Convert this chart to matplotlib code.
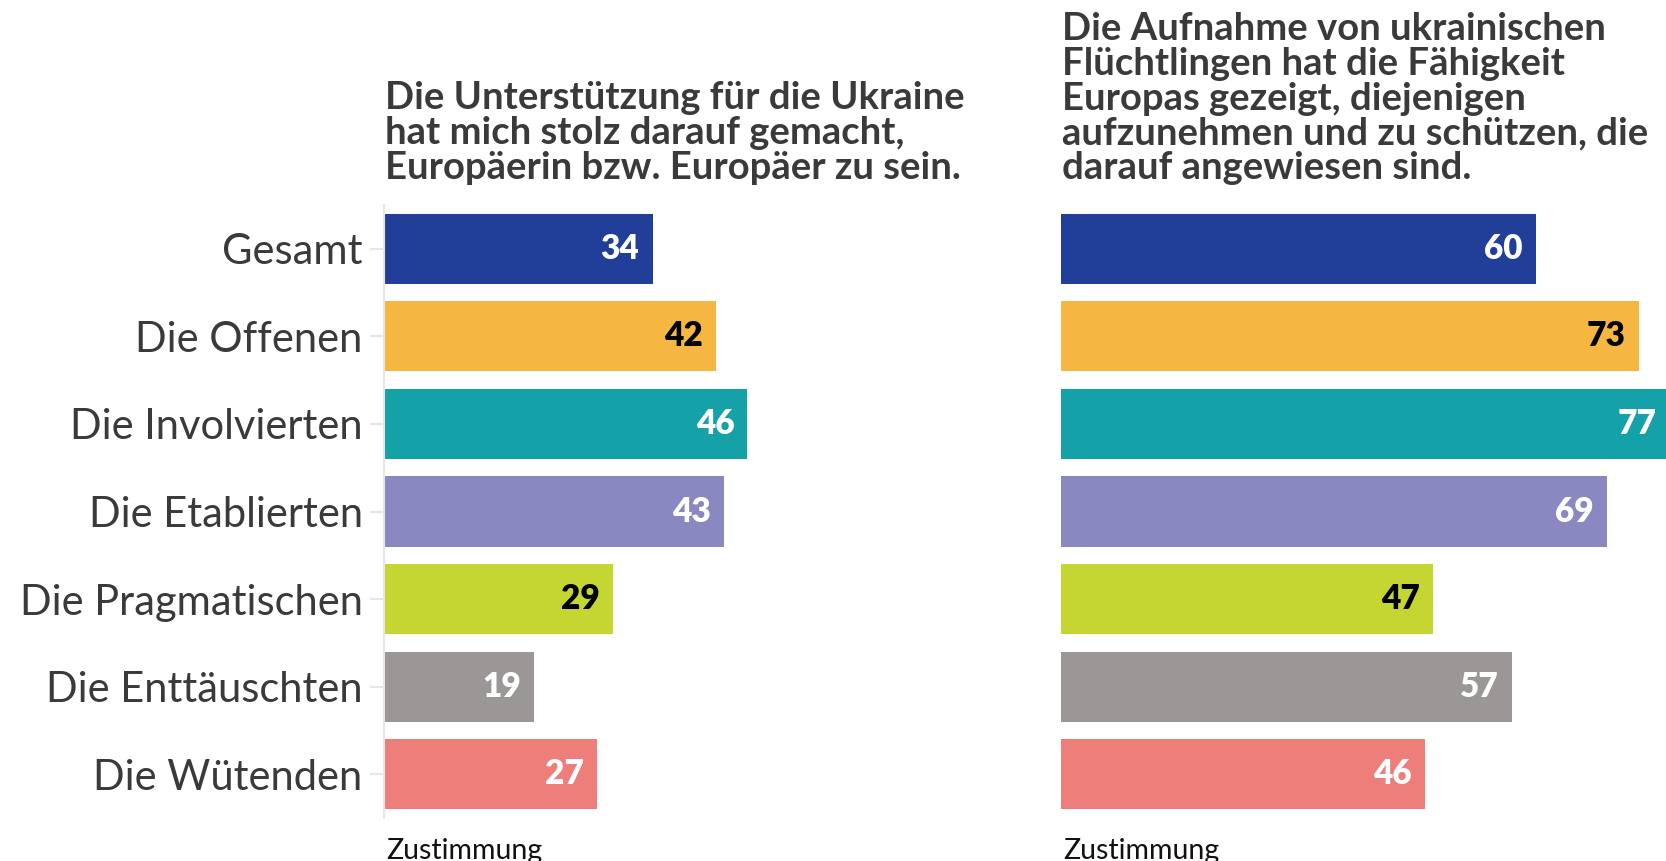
import matplotlib.pyplot as plt

plt.rcParams['font.family'] = ['Lato', 'DejaVu Sans']

# Zustimmung in Prozent je Gruppe
groups = ["Gesamt", "Die Offenen", "Die Involvierten", "Die Etablierten",
          "Die Pragmatischen", "Die Enttäuschten", "Die Wütenden"]
stolz = [34, 42, 46, 43, 29, 19, 27]
fluechtlinge = [60, 73, 77, 69, 47, 57, 46]

colors = ["#213f99", "#f5b642", "#14a2a8", "#8a88c0", "#c5d532", "#9b9796", "#ee7e79"]
label_colors = ["white", "black", "white", "white", "black", "white", "white"]

title_left = ("Die Unterstützung für die Ukraine\n"
              "hat mich stolz darauf gemacht,\n"
              "Europäerin bzw. Europäer zu sein.")
title_right = ("Die Aufnahme von ukrainischen\n"
               "Flüchtlingen hat die Fähigkeit\n"
               "Europas gezeigt, diejenigen\n"
               "aufzunehmen und zu schützen, die\n"
               "darauf angewiesen sind.")

W, H = 1666, 861
fig = plt.figure(figsize=(W / 100, H / 100), dpi=100)

bottom = (H - 818) / H
height = 613 / H
width = 633 / W
ax1 = fig.add_axes([383.5 / W, bottom, width, height])
ax2 = fig.add_axes([1061 / W, bottom, width, height])


def draw_panel(ax, values, show_labels):
    ypos = range(len(values))
    ax.barh(ypos, values, height=0.8, color=colors)
    for y, v, c in zip(ypos, values, label_colors):
        ax.annotate(str(v), xy=(v, y), xytext=(-9.5, 0), textcoords="offset points",
                    ha="right", va="center", fontsize=24, fontweight="heavy", color=c)
    ax.set_xlim(0, 80)
    ax.set_ylim(6.5, -0.5)
    ax.set_xticks([])
    for s in ["top", "right", "bottom"]:
        ax.spines[s].set_visible(False)
    if show_labels:
        ax.spines["left"].set_color("#e6e6e6")
        ax.spines["left"].set_linewidth(1.5)
        ax.set_yticks(list(ypos))
        ax.set_yticklabels(groups, fontsize=30, color="#3a3a3a")
        ax.tick_params(axis="y", length=10, width=1.5, color="#e6e6e6", pad=5)
    else:
        ax.spines["left"].set_visible(False)
        ax.set_yticks([])
    ax.text(0.004, -0.032, "Zustimmung", transform=ax.transAxes, fontsize=20.5,
            color="#111111", ha="left", va="top")


draw_panel(ax1, stolz, True)
draw_panel(ax2, fluechtlinge, False)

fig.text(385 / W, 1 - 81 / H, title_left, ha="left", va="top", fontsize=27.5,
         fontweight="bold", color="#3a3a3a", linespacing=1.03)
fig.text(1062 / W, 1 - 12 / H, title_right, ha="left", va="top", fontsize=27.5,
         fontweight="bold", color="#3a3a3a", linespacing=1.03)

fig.savefig("out.png", dpi=100)
